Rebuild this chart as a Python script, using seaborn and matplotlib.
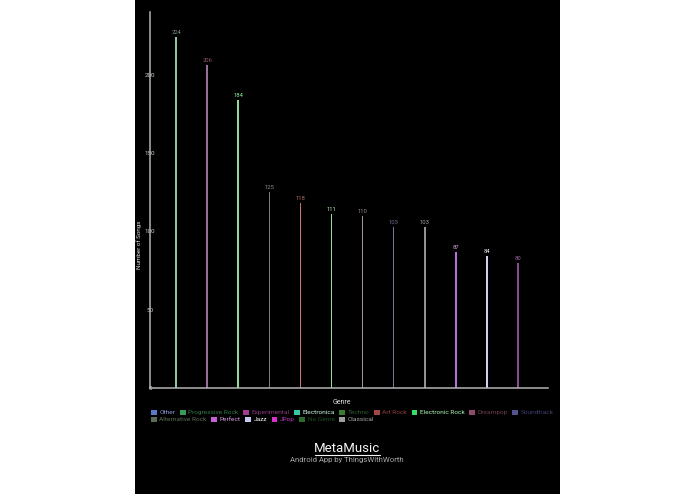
import matplotlib.pyplot as plt
import matplotlib.patches as mpatches
import numpy as np
import pandas as pd
import seaborn as sns

sns.set_style("white")
plt.rcParams['font.family'] = ['Roboto', 'DejaVu Sans']

# bars visible in the (scrolled) chart
genres = ['Progressive Rock', 'Experimental', 'Electronica', 'Techno', 'Art Rock',
          'Electronic Rock', 'Dreampop', 'Soundtrack', 'Alternative Rock', 'Perfect',
          'Jazz', 'JPop', 'No Genre']
songs = [224, 206, 184, 125, 118, 111, 110, 103, 103, 87, 84, 80, 79]

# legend entries
legend_row1 = ['Other', 'Progressive Rock', 'Experimental', 'Electronica', 'Techno',
               'Art Rock', 'Electronic Rock', 'Dreampop', 'Soundtrack']
legend_row2 = ['Alternative Rock', 'Perfect', 'Jazz', 'JPop', 'No Genre', 'Classical']

swatch = {'Other': '#5b78c8', 'Progressive Rock': '#3a9a5a', 'Experimental': '#a03c92',
          'Electronica': '#38c8a4', 'Techno': '#3a7a32', 'Art Rock': '#a24848',
          'Electronic Rock': '#34e064', 'Dreampop': '#8c4c6a', 'Soundtrack': '#52528c',
          'Alternative Rock': '#5c6c52', 'Perfect': '#c462d4', 'Jazz': '#c8c8f0',
          'JPop': '#d432c8', 'No Genre': '#2a6a2a', 'Classical': '#a0a0a0'}
textcol = {'Other': '#8c9ad8', 'Progressive Rock': '#2e7a44', 'Experimental': '#8c3a82',
           'Electronica': '#c8f4dc', 'Techno': '#2e5e2e', 'Art Rock': '#8c3c3c',
           'Electronic Rock': '#a8f4b0', 'Dreampop': '#6c3c52', 'Soundtrack': '#3e3e70',
           'Alternative Rock': '#5c6c52', 'Perfect': '#d498e4', 'Jazz': '#ffffff',
           'JPop': '#c634c0', 'No Genre': '#1e4e1e', 'Classical': '#a8a8a8'}
barcol = {'Progressive Rock': '#8cc89c', 'Experimental': '#9a6e9a', 'Electronica': '#94d89c',
          'Techno': '#7c7c7c', 'Art Rock': '#d07070', 'Electronic Rock': '#98e098',
          'Dreampop': '#a89494', 'Soundtrack': '#74749c', 'Alternative Rock': '#929292',
          'Perfect': '#b870dc', 'Jazz': '#d0d0ec', 'JPop': '#8c4a94', 'No Genre': '#5a7a5a'}
labelcol = {'Progressive Rock': '#7a9a84', 'Experimental': '#8c5a7a', 'Electronica': '#90f0a0',
            'Techno': '#8c8c8c', 'Art Rock': '#b86a6a', 'Electronic Rock': '#b4ecb4',
            'Dreampop': '#a08888', 'Soundtrack': '#6a6a8c', 'Alternative Rock': '#a0a0a0',
            'Perfect': '#d4a8e8', 'Jazz': '#e8e8f8', 'JPop': '#a060a8', 'No Genre': '#707070'}

df = pd.DataFrame({'Genre': genres, 'Songs': songs})

fig = plt.figure(figsize=(6.95, 4.94), dpi=100, facecolor='white')
fig.patches.append(mpatches.Rectangle((135 / 695, 0), 425 / 695, 1, transform=fig.transFigure,
                                      facecolor='black', edgecolor='none', zorder=-5))
ax = fig.add_axes([150 / 695, 1 - 388 / 494, 398 / 695, 376 / 494])
ax.set_facecolor('black')

sns.barplot(ax=ax, data=df, x='Genre', y='Songs', hue='Genre', palette=barcol,
            width=0.05, legend=False, saturation=1, linewidth=0)

for cont, g in zip(ax.containers, genres):
    ax.bar_label(cont, labels=[str(songs[genres.index(g)])], color=labelcol[g],
                 fontsize=4.2, padding=1.5, clip_on=True)

ax.set_xlim(-0.84, 11.965)
ax.set_ylim(0, 240)
ax.set_yticks([0, 50, 100, 150, 200])
ax.set_xticks([])
ax.tick_params(axis='y', length=0, pad=0, labelsize=4.5, labelcolor='#d0d0d0')
for lbl in ax.get_yticklabels():
    lbl.set_ha('center')

for side in ['top', 'right']:
    ax.spines[side].set_visible(False)
for side in ['left', 'bottom']:
    ax.spines[side].set_color('#b4b4b4')
    ax.spines[side].set_linewidth(1.1)

ax.set_ylabel('Number of Songs', fontsize=4.5, color='#e0e0e0')
ax.yaxis.set_label_coords(-0.02, 0.38)
ax.set_xlabel('Genre', fontsize=5, color='#e0e0e0')
ax.xaxis.set_label_coords(0.482, -0.03)

for row, y in [(legend_row1, 1 - 409.5 / 494), (legend_row2, 1 - 416.5 / 494)]:
    handles = [mpatches.Patch(facecolor=swatch[g], edgecolor='none') for g in row]
    fig.legend(handles, row, loc='upper left', bbox_to_anchor=(151 / 695, y),
               ncol=len(row), frameon=False, fontsize=4.65,
               labelcolor=[textcol[g] for g in row], handlelength=0.9, handleheight=0.9,
               handletextpad=0.4, columnspacing=0.7, borderpad=0, borderaxespad=0)

title = fig.text(347 / 695, 1 - 448 / 494, 'MetaMusic', ha='center', va='center',
                 fontsize=9.5, color='#f4f4f4')
fig.add_artist(plt.Line2D([315 / 695, 380 / 695], [1 - 455 / 494, 1 - 455 / 494],
                          color='#f4f4f4', linewidth=0.8))
fig.text(347 / 695, 1 - 459.5 / 494, 'Android App by ThingsWithWorth', ha='center',
         va='center', fontsize=5.6, color='#a8a8a8')

fig.savefig('out.png', dpi=100, facecolor=fig.get_facecolor())
